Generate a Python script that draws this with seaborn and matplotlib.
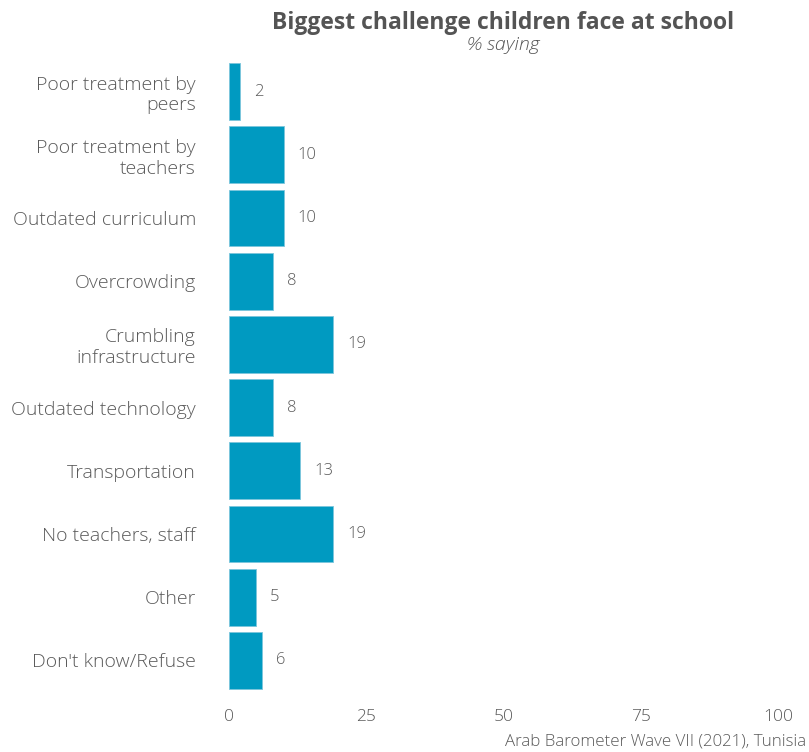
import matplotlib
matplotlib.use("Agg")
import matplotlib.pyplot as plt
import seaborn as sns
import pandas as pd

# Data
categories = [
    "Poor treatment by\npeers",
    "Poor treatment by\nteachers",
    "Outdated curriculum",
    "Overcrowding",
    "Crumbling\ninfrastructure",
    "Outdated technology",
    "Transportation",
    "No teachers, staff",
    "Other",
    "Don't know/Refuse",
]
percent_saying = [2, 10, 10, 8, 19, 8, 13, 19, 5, 6]
x_ticks = [0, 25, 50, 75, 100]

BAR_COLOR = "#009AC1"
TEXT_COLOR = "#545454"
LABEL_COLOR = "#5a5a5a"


def plot_challenges():
    sns.set_theme(style="white")
    plt.rcParams["font.family"] = ["Open Sans", "DejaVu Sans"]

    df = pd.DataFrame({"Challenge": categories, "Percent": percent_saying})

    fig = plt.figure(figsize=(8.09, 7.52), dpi=100)
    ax = fig.add_axes([0.249, 0.0713, 0.7467, 0.8574])

    sns.barplot(
        data=df, y="Challenge", x="Percent", orient="h",
        color=BAR_COLOR, saturation=1, width=0.9,
        edgecolor="#7cc6dc", linewidth=0.6, ax=ax,
    )

    # Value labels to the right of each bar
    for i, v in enumerate(df["Percent"]):
        ax.annotate(
            f"{v}", xy=(v, i), xytext=(10, 0), textcoords="offset points",
            ha="left", va="center", fontsize=12, color=LABEL_COLOR,
            fontweight="light",
        )

    ax.set_xlim(-5, 105)
    ax.set_ylim(len(categories) - 0.4, -0.6)
    ax.set_xticks(x_ticks)
    ax.set_xticklabels([str(t) for t in x_ticks])
    ax.set_xlabel("")
    ax.set_ylabel("")
    ax.tick_params(axis="x", length=0, labelsize=12.5, labelcolor=LABEL_COLOR,
                   pad=8)
    ax.tick_params(axis="y", length=0, labelsize=14, labelcolor=LABEL_COLOR,
                   pad=4)
    for lbl in ax.get_yticklabels() + ax.get_xticklabels():
        lbl.set_fontweight("light")
        lbl.set_multialignment("right")
    sns.despine(ax=ax, left=True, bottom=True)

    # Title and subtitle centred on the panel
    cx = 0.249 + 0.7467 / 2
    fig.text(cx, 0.961, "Biggest challenge children face at school",
             ha="center", va="baseline", fontsize=16.5, fontweight="bold",
             color=TEXT_COLOR)
    fig.text(cx, 0.933, "% saying", ha="center", va="baseline",
             fontsize=14, style="italic", color=TEXT_COLOR,
             fontweight="light")

    # Caption
    fig.text(0.996, 0.009, "Arab Barometer Wave VII (2021), Tunisia",
             ha="right", va="baseline", fontsize=12.2, color=LABEL_COLOR,
             fontweight="light")

    fig.savefig("out.png", dpi=100)
    plt.close(fig)


if __name__ == "__main__":
    plot_challenges()
